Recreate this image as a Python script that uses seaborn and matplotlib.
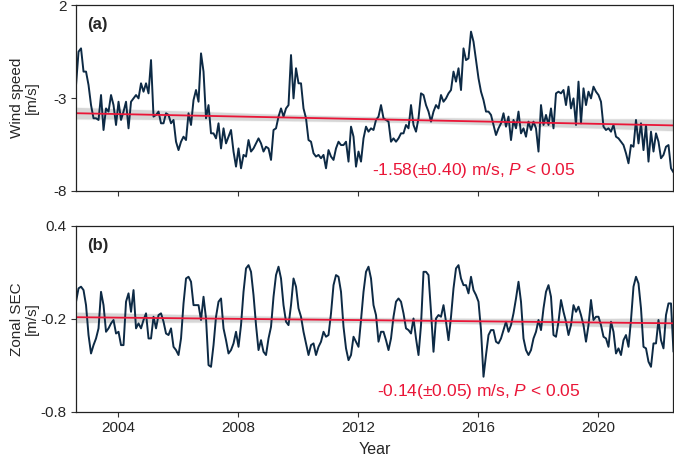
import numpy as np
import pandas as pd
import matplotlib
matplotlib.use('Agg')
import matplotlib.pyplot as plt
import seaborn as sns

# --- DATA (monthly) ---
START_YEAR = 2002.6
MONTH = 1 / 12

wind_speed = [
    -2.30, -0.51, -0.33, -1.58, -1.58, -2.30, -3.38, -4.09, -4.09, -4.18,
    -2.84, -4.72, -3.56, -3.73, -2.84, -3.38, -4.45, -3.20, -4.18, -3.73,
    -3.20, -4.63, -3.20, -3.02, -2.84, -3.02, -2.21, -2.66, -2.21, -2.75,
    -0.96, -4.00, -3.91, -3.73, -4.36, -4.36, -3.82, -3.91, -4.36, -4.18,
    -5.35, -5.80, -5.35, -5.08, -5.26, -3.82, -4.45, -3.11, -2.57, -3.20,
    -0.60, -1.58, -4.09, -3.38, -4.90, -4.90, -5.17, -4.36, -5.71, -4.63,
    -5.44, -5.08, -4.72, -5.88, -6.69, -5.71, -6.78, -6.06, -6.15, -5.26,
    -5.88, -5.71, -5.44, -5.17, -5.44, -5.88, -5.62, -5.71, -6.33, -4.72,
    -4.63, -4.00, -3.56, -4.00, -3.56, -3.38, -0.69, -3.02, -1.40, -2.21,
    -2.21, -3.56, -4.09, -5.26, -5.35, -5.97, -6.15, -6.06, -6.24, -6.06,
    -6.78, -5.80, -6.15, -6.33, -5.71, -5.35, -5.53, -5.53, -5.35, -6.42,
    -4.54, -5.08, -6.69, -5.88, -6.42, -5.17, -4.54, -4.81, -4.63, -4.72,
    -4.18, -4.00, -3.38, -4.09, -4.18, -4.27, -5.35, -5.17, -5.35, -5.17,
    -4.90, -4.90, -4.45, -4.63, -3.38, -4.45, -4.81, -4.09, -2.75, -2.84,
    -3.38, -3.73, -4.27, -3.73, -3.38, -3.56, -2.84, -3.20, -3.02, -2.75,
    -2.57, -1.58, -2.12, -1.40, -2.57, -0.33, -0.96, -0.87, 0.57, 0.03,
    -0.96, -1.94, -2.66, -3.11, -3.73, -3.73, -3.91, -4.45, -4.99, -4.63,
    -4.36, -3.82, -4.54, -4.00, -5.26, -4.18, -4.63, -3.73, -4.90, -4.63,
    -5.08, -4.27, -4.72, -4.27, -4.63, -5.88, -3.38, -4.45, -3.91, -4.45,
    -3.56, -4.63, -2.75, -2.66, -2.75, -2.57, -3.38, -2.39, -3.56, -3.02,
    -4.45, -2.12, -4.36, -2.48, -3.38, -2.66, -3.02, -2.39, -2.66, -2.84,
    -3.20, -4.54, -4.72, -4.63, -4.81, -4.45, -5.08, -5.17, -5.35, -5.53,
    -5.97, -6.51, -5.53, -5.62, -4.18, -5.44, -4.36, -5.80, -4.45, -6.42,
    -4.81, -5.88, -4.90, -5.35, -6.24, -6.06, -5.62, -5.53, -6.78, -7.00,
]

zonal_sec = [
    -0.090, -0.004, 0.007, -0.015, -0.112, -0.305, -0.424, -0.370, -0.327, -0.262,
    -0.026, -0.112, -0.284, -0.262, -0.230, -0.208, -0.295, -0.284, -0.370, -0.370,
    -0.090, -0.036, -0.155, -0.015, -0.262, -0.230, -0.262, -0.208, -0.165, -0.327,
    -0.327, -0.187, -0.262, -0.176, -0.165, -0.219, -0.295, -0.305, -0.262, -0.381,
    -0.402, -0.434, -0.327, -0.101, 0.060, 0.071, 0.039, -0.112, -0.112, -0.112,
    -0.208, -0.058, -0.198, -0.499, -0.510, -0.370, -0.187, -0.090, -0.069, -0.262,
    -0.338, -0.424, -0.402, -0.359, -0.284, -0.381, -0.241, -0.026, 0.125, 0.146,
    0.103, -0.047, -0.241, -0.402, -0.338, -0.413, -0.434, -0.327, -0.252, -0.058,
    0.082, 0.136, 0.060, -0.112, -0.219, -0.241, -0.112, 0.060, 0.007, -0.133,
    -0.187, -0.284, -0.359, -0.434, -0.370, -0.359, -0.434, -0.381, -0.348, -0.284,
    -0.316, -0.305, -0.165, 0.017, 0.082, 0.071, -0.026, -0.252, -0.391, -0.467,
    -0.434, -0.316, -0.348, -0.381, -0.208, -0.026, 0.103, 0.136, 0.060, -0.112,
    -0.176, -0.348, -0.284, -0.284, -0.338, -0.402, -0.327, -0.187, -0.090, -0.069,
    -0.090, -0.165, -0.262, -0.273, -0.295, -0.198, -0.327, -0.434, -0.241, 0.103,
    0.103, 0.082, -0.155, -0.413, -0.198, -0.176, -0.187, -0.112, -0.219, -0.338,
    -0.187, -0.004, 0.125, 0.146, 0.060, 0.017, 0.017, -0.036, 0.071, -0.015,
    -0.047, -0.090, -0.273, -0.574, -0.434, -0.305, -0.273, -0.273, -0.348, -0.359,
    -0.327, -0.273, -0.219, -0.284, -0.241, -0.165, -0.069, 0.039, -0.090, -0.327,
    -0.402, -0.434, -0.402, -0.327, -0.284, -0.208, -0.273, -0.133, -0.026, 0.017,
    -0.058, -0.305, -0.316, -0.219, -0.079, -0.155, -0.219, -0.305, -0.241, -0.112,
    -0.155, -0.122, -0.176, -0.241, -0.348, -0.241, -0.079, -0.208, -0.187, -0.187,
    -0.241, -0.316, -0.327, -0.381, -0.219, -0.284, -0.424, -0.391, -0.434, -0.338,
    -0.305, -0.381, -0.208, 0.007, 0.071, 0.028, -0.133, -0.381, -0.391, -0.477,
    -0.510, -0.359, -0.359, -0.208, -0.338, -0.391, -0.176, -0.101, -0.101, -0.413,
]

year_ticks = [2004, 2008, 2012, 2016, 2020]
wind_ticks = [-8, -3, 2]
sec_ticks = [-0.8, -0.2, 0.4]
wind_trend_text = '-1.58(\u00b10.40) m/s, $\\it{P}$ < 0.05'
sec_trend_text = '-0.14(\u00b10.05) m/s, $\\it{P}$ < 0.05'

# --- STYLE ---
LINE_COLOR = '#0d2a45'
TREND_COLOR = '#ea1537'
BAND_COLOR = '#c9c9c9'

sns.set_style('ticks')
plt.rcParams['font.family'] = ['Liberation Sans', 'DejaVu Sans']
plt.rcParams['mathtext.fontset'] = 'custom'
plt.rcParams['mathtext.it'] = 'Liberation Sans:italic'
plt.rcParams['axes.unicode_minus'] = False


def draw_panel(ax, years, values, ylim, yticks, ylabel, letter, trend_text, text_x):
    df = pd.DataFrame({'year': years, 'value': values})
    sns.lineplot(data=df, x='year', y='value', ax=ax, color=LINE_COLOR, linewidth=1.4)
    # linear trend + 95% band, then recolour band grey and line red
    n_coll = len(ax.collections)
    sns.regplot(data=df, x='year', y='value', ax=ax, scatter=False, ci=95, seed=0,
                color=BAND_COLOR, line_kws={'linewidth': 1.3})
    ax.lines[-1].set_color(TREND_COLOR)
    for band in ax.collections[n_coll:]:
        band.set_facecolor(BAND_COLOR)
        band.set_alpha(0.75)
        band.set_zorder(1)

    ax.set_xlim(START_YEAR, 2022.5)
    ax.set_ylim(*ylim)
    ax.set_xticks(year_ticks)
    ax.set_yticks(yticks)
    ax.set_yticklabels([f'{t:g}' for t in yticks])
    ax.set_ylabel(ylabel, fontsize=11, linespacing=1.1)
    ax.yaxis.set_label_coords(-0.062, 0.5)
    ax.set_xlabel('')
    ax.tick_params(axis='both', labelsize=11, length=3.5, width=0.8, direction='out',
                   color='#333333', pad=3)
    for s in ax.spines.values():
        s.set_visible(True)
        s.set_linewidth(0.9)
        s.set_color('#222222')
    ax.text(0.018, 0.895, letter, transform=ax.transAxes, fontsize=12, fontweight='bold',
            va='center', ha='left')
    ax.text(text_x, 0.11, trend_text, transform=ax.transAxes, fontsize=12.5,
            color=TREND_COLOR, va='center', ha='left')


years = START_YEAR + np.arange(len(wind_speed)) * MONTH

fig = plt.figure(figsize=(6.74, 4.58), dpi=100)
ax_top = fig.add_axes([0.1128, 0.583, 0.8857, 0.406])
ax_bot = fig.add_axes([0.1128, 0.101, 0.8857, 0.406])

draw_panel(ax_top, years, wind_speed, (-8, 2), wind_ticks, 'Wind speed\n[m/s]', '(a)',
           wind_trend_text, 0.495)
draw_panel(ax_bot, years, zonal_sec, (-0.8, 0.4), sec_ticks, 'Zonal SEC\n[m/s]', '(b)',
           sec_trend_text, 0.505)

ax_top.set_xticklabels([])
ax_bot.set_xlabel('Year', fontsize=11.5, labelpad=5)

fig.savefig('out.png', dpi=100)
